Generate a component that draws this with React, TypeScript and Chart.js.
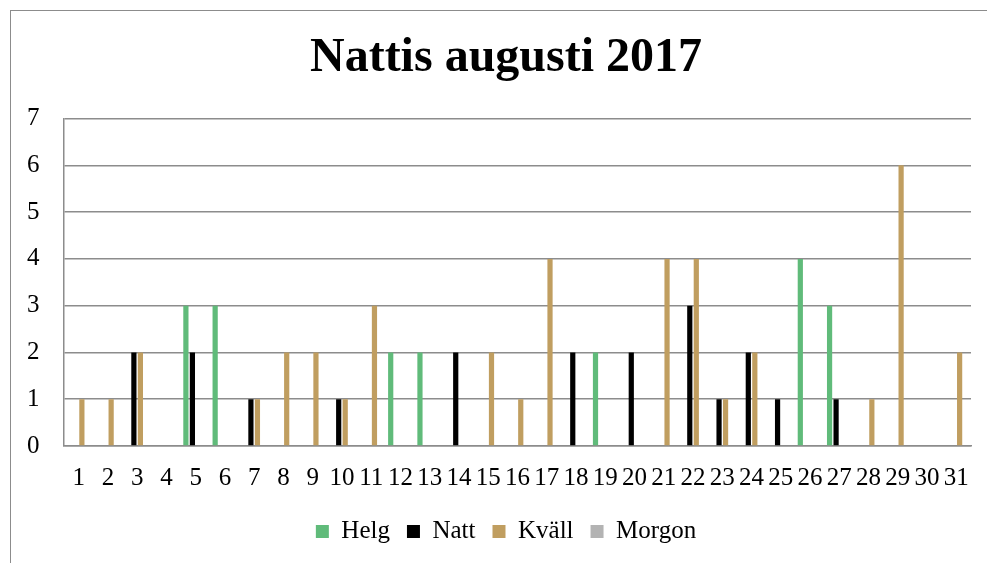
import React, { useEffect, useRef } from "react";
import { Chart, registerables } from "chart.js";

Chart.register(...registerables);

const days = Array.from({ length: 31 }, (_, i) => String(i + 1));
const helg = [0, 0, 0, 0, 3, 3, 0, 0, 0, 0, 0, 2, 2, 0, 0, 0, 0, 0, 2, 0, 0, 0, 0, 0, 0, 4, 3, 0, 0, 0, 0];
const natt = [0, 0, 2, 0, 2, 0, 1, 0, 0, 1, 0, 0, 0, 2, 0, 0, 0, 2, 0, 2, 0, 3, 1, 2, 1, 0, 1, 0, 0, 0, 0];
const kvall = [1, 1, 2, 0, 0, 0, 1, 2, 2, 1, 3, 0, 0, 0, 2, 1, 4, 0, 0, 0, 4, 4, 1, 2, 0, 0, 0, 1, 6, 0, 2];
const morgon = [0, 0, 0, 0, 0, 0, 0, 0, 0, 0, 0, 0, 0, 0, 0, 0, 0, 0, 0, 0, 0, 0, 0, 0, 0, 0, 0, 0, 0, 0, 0];
const yMin = 0;
const yMax = 7;
const yStep = 1;

const FONT = '"Liberation Serif", "Times New Roman", serif';
const GRID = "#8c8c8c";

export default function App() {
  const ref = useRef<HTMLCanvasElement | null>(null);

  useEffect(() => {
    if (!ref.current) return;
    const chart = new Chart(ref.current, {
      type: "bar",
      data: {
        labels: days,
        datasets: [
          { label: "Helg", data: helg, backgroundColor: "#60bb7a" },
          { label: "Natt", data: natt, backgroundColor: "#000000" },
          { label: "Kväll", data: kvall, backgroundColor: "#c09e60" },
          { label: "Morgon", data: morgon, backgroundColor: "#b3b3b3" },
        ],
      },
      options: {
        animation: false,
        responsive: false,
        devicePixelRatio: 1,
        datasets: { bar: { categoryPercentage: 0.89, barPercentage: 0.8 } },
        layout: { padding: { left: 41, right: 16, top: 0, bottom: 9 } },
        plugins: {
          title: {
            display: true,
            text: "Nattis augusti 2017",
            color: "#000",
            font: { family: FONT, size: 48, weight: "bold", lineHeight: 1.2 },
            padding: { top: 30, bottom: 31 },
          },
          legend: {
            position: "bottom",
            labels: {
              color: "#000",
              font: { family: FONT, size: 25 },
              boxWidth: 13,
              boxHeight: 13,
              padding: 17,
            },
          },
          tooltip: { enabled: false },
        },
        scales: {
          x: {
            grid: { display: false, drawTicks: false },
            border: { display: true, color: GRID, width: 1.5 },
            ticks: {
              color: "#000",
              font: { family: FONT, size: 25 },
              autoSkip: false,
              maxRotation: 0,
              padding: 17,
            },
            afterFit: (s: any) => {
              s.height = 56;
            },
          },
          y: {
            min: yMin,
            max: yMax,
            grid: { color: GRID, lineWidth: 1.5, drawTicks: false },
            border: { display: true, color: GRID, width: 1.5 },
            ticks: {
              stepSize: yStep,
              color: "#000",
              font: { family: FONT, size: 25 },
              mirror: true,
              padding: -37,
            },
            afterFit: (s: any) => {
              s.width = 23;
            },
          },
        },
      },
    });
    return () => chart.destroy();
  }, []);

  return (
    <div
      style={{
        position: "fixed",
        left: 0,
        top: 0,
        width: 987,
        height: 563,
        overflow: "hidden",
        background: "#fff",
      }}
    >
      <div
        style={{
          position: "absolute",
          left: 10,
          top: 10,
          width: 1200,
          height: 800,
          border: "1px solid #8c8c8c",
        }}
      />
      <canvas
        ref={ref}
        width={987}
        height={563}
        style={{ position: "absolute", left: 0, top: 0, width: 987, height: 563 }}
      />
    </div>
  );
}
